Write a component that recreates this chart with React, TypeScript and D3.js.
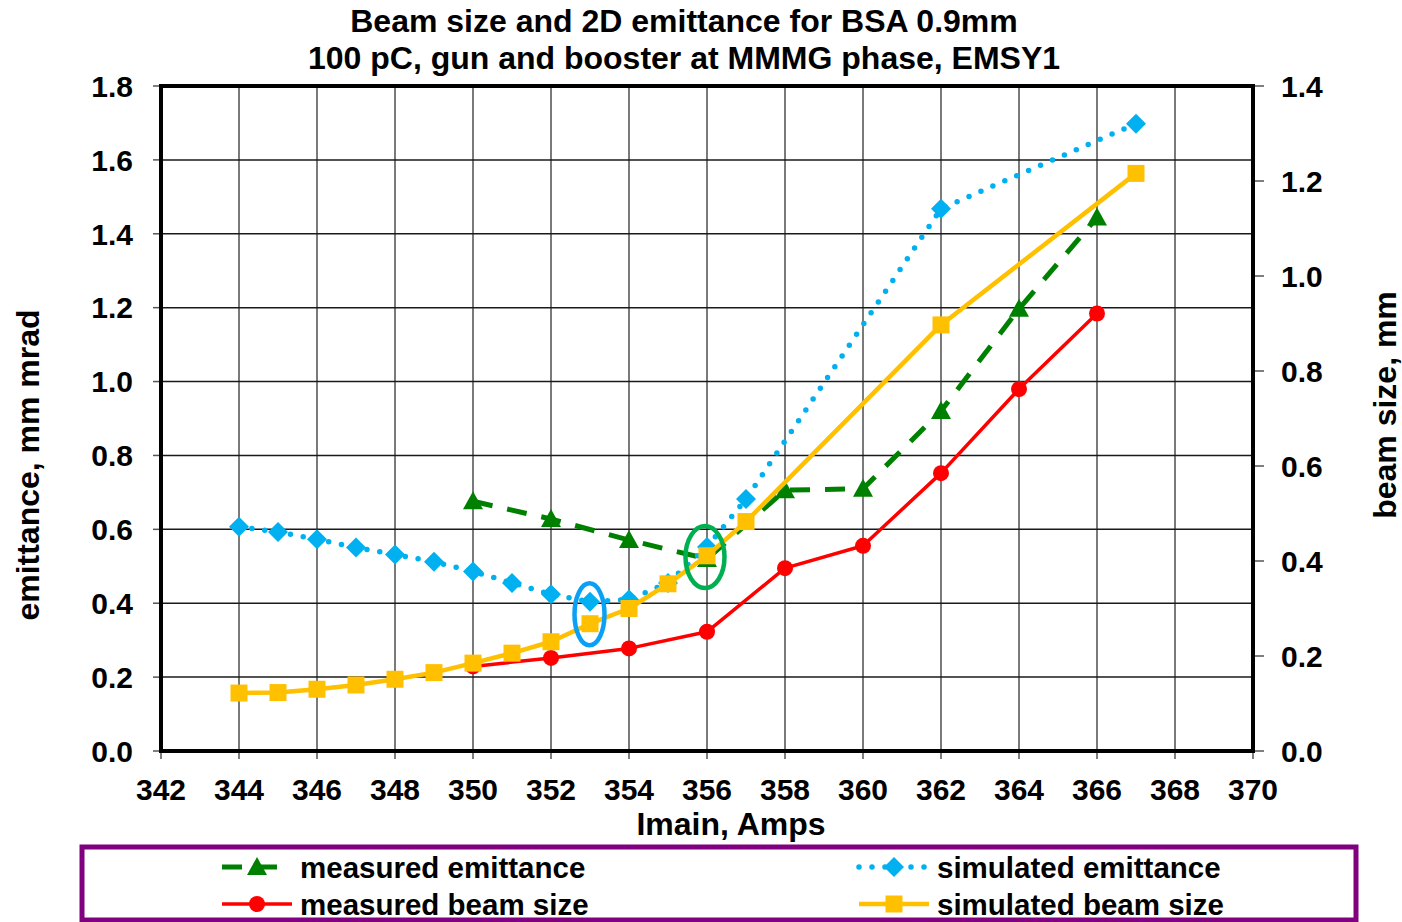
import React from "react";
import * as d3 from "d3";

// Imain current settings, Amps
const measEmitX = [350, 352, 354, 356, 358, 360, 362, 364, 366];
const measEmitY = [0.676, 0.628, 0.571, 0.52, 0.706, 0.71, 0.92, 1.197, 1.444];

const simEmitX = [344, 345, 346, 347, 348, 349, 350, 351, 352, 353, 354, 355, 356, 357, 362, 367];
const simEmitY = [0.607, 0.593, 0.573, 0.551, 0.532, 0.512, 0.486, 0.455, 0.424, 0.404, 0.41, 0.455, 0.552, 0.682, 1.468, 1.698];

const measSizeX = [350, 352, 354, 356, 358, 360, 362, 364, 366];
const measSizeY = [0.178, 0.196, 0.216, 0.251, 0.385, 0.432, 0.585, 0.762, 0.921];

const simSizeX = [344, 345, 346, 347, 348, 349, 350, 351, 352, 353, 354, 355, 356, 357, 362, 367];
const simSizeY = [0.122, 0.123, 0.13, 0.139, 0.151, 0.165, 0.185, 0.206, 0.23, 0.268, 0.3, 0.352, 0.411, 0.483, 0.897, 1.216];

const xTicks = [342, 344, 346, 348, 350, 352, 354, 356, 358, 360, 362, 364, 366, 368, 370];
const leftTicks = [0, 0.2, 0.4, 0.6, 0.8, 1.0, 1.2, 1.4, 1.6, 1.8];
const rightTicks = [0, 0.2, 0.4, 0.6, 0.8, 1.0, 1.2, 1.4];

const titleLines = ["Beam size and 2D emittance for BSA 0.9mm", "100 pC, gun and booster at MMMG phase, EMSY1"];

// Highlighted settings (ellipses): [x, value on emittance axis]
const highlightBlue = [353, 0.37];
const highlightGreen = [356, 0.525];

const W = 1402;
const H = 922;
const L = 161, R = 1253, T = 86, B = 751;

const GREEN = "#008000";
const BLUE = "#00b0f0";
const RED = "#ff0000";
const YELLOW = "#ffc000";
const FONT = "'Liberation Sans', Arial, Helvetica, sans-serif";

const x = d3.scaleLinear().domain([342, 370]).range([L, R]);
const yL = d3.scaleLinear().domain([0, 1.8]).range([B, T]);
const yR = d3.scaleLinear().domain([0, 1.4]).range([B, T]);

type Pt = [number, number];
const zip = (xs: number[], ys: number[]): Pt[] => xs.map((v, i) => [v, ys[i]]);

function Marker({ kind, cx, cy, color }: { kind: string; cx: number; cy: number; color: string }) {
  if (kind === "circle") return <circle cx={cx} cy={cy} r={8} fill={color} />;
  if (kind === "square") return <rect x={cx - 8.5} y={cy - 8.5} width={17} height={17} fill={color} />;
  if (kind === "diamond")
    return <path d={`M${cx},${cy - 10}L${cx + 10},${cy}L${cx},${cy + 10}L${cx - 10},${cy}Z`} fill={color} />;
  return <path d={`M${cx},${cy - 10}L${cx + 10},${cy + 8}L${cx - 10},${cy + 8}Z`} fill={color} />;
}

const series = [
  { name: "measured emittance", data: zip(measEmitX, measEmitY), y: yL, color: GREEN, width: 5, dash: "20 15", cap: "butt", marker: "triangle" },
  { name: "simulated emittance", data: zip(simEmitX, simEmitY), y: yL, color: BLUE, width: 5.5, dash: "0 13", cap: "round", marker: "diamond" },
  { name: "measured beam size", data: zip(measSizeX, measSizeY), y: yR, color: RED, width: 3.5, dash: "none", cap: "butt", marker: "circle" },
  { name: "simulated beam size", data: zip(simSizeX, simSizeY), y: yR, color: YELLOW, width: 4.5, dash: "none", cap: "butt", marker: "square" },
];

const legendPos: Record<string, [number, number]> = {
  "measured emittance": [222, 867],
  "simulated emittance": [859, 867],
  "measured beam size": [222, 904],
  "simulated beam size": [859, 904],
};

export default function App() {
  return (
    <svg width={W} height={H} style={{ position: "absolute", left: 0, top: 0, background: "#fff" }} fontFamily={FONT}>
      {/* title */}
      {titleLines.map((t, i) => (
        <text key={t} x={684} y={32 + i * 37} textAnchor="middle" fontSize={32} fontWeight="bold">{t}</text>
      ))}

      {/* grid */}
      {xTicks.slice(1, -1).map((v) => (
        <line key={"gx" + v} x1={x(v)} x2={x(v)} y1={T} y2={B} stroke="#7a7a7a" strokeWidth={2} />
      ))}
      {leftTicks.slice(1, -1).map((v) => (
        <line key={"gy" + v} x1={L} x2={R} y1={yL(v)} y2={yL(v)} stroke="#1a1a1a" strokeWidth={1.5} />
      ))}

      {/* tick marks */}
      {xTicks.map((v) => (
        <line key={"tx" + v} x1={x(v)} x2={x(v)} y1={B} y2={B + 8} stroke="#555" strokeWidth={1.5} />
      ))}
      {leftTicks.map((v) => (
        <line key={"tl" + v} x1={L - 8} x2={L} y1={yL(v)} y2={yL(v)} stroke="#555" strokeWidth={1.5} />
      ))}
      {rightTicks.map((v) => (
        <line key={"tr" + v} x1={R} x2={R + 11} y1={yR(v)} y2={yR(v)} stroke="#555" strokeWidth={1.5} />
      ))}

      {/* tick labels */}
      {xTicks.map((v) => (
        <text key={"lx" + v} x={x(v)} y={800} textAnchor="middle" fontSize={30} fontWeight="bold">{v}</text>
      ))}
      {leftTicks.map((v) => (
        <text key={"ll" + v} x={133} y={yL(v)} dy="0.36em" textAnchor="end" fontSize={30} fontWeight="bold">{v.toFixed(1)}</text>
      ))}
      {rightTicks.map((v) => (
        <text key={"lr" + v} x={1281} y={yR(v)} dy="0.36em" textAnchor="start" fontSize={30} fontWeight="bold">{v.toFixed(1)}</text>
      ))}

      {/* axis titles */}
      <text x={731} y={835} textAnchor="middle" fontSize={32} fontWeight="bold">Imain, Amps</text>
      <text transform="translate(39,465) rotate(-90)" textAnchor="middle" fontSize={32} fontWeight="bold">emittance, mm mrad</text>
      <text transform="translate(1396,405) rotate(-90)" textAnchor="middle" fontSize={32} fontWeight="bold">beam size, mm</text>

      {/* series */}
      {series.map((s) => {
        const line = d3.line<Pt>().x((d) => x(d[0])).y((d) => s.y(d[1]));
        return (
          <g key={s.name}>
            <path d={line(s.data) || ""} fill="none" stroke={s.color} strokeWidth={s.width}
              strokeDasharray={s.dash} strokeLinecap={s.cap as any} strokeLinejoin="round" />
            {s.data.map((d, i) => (
              <Marker key={i} kind={s.marker} cx={x(d[0])} cy={s.y(d[1])} color={s.color} />
            ))}
          </g>
        );
      })}

      {/* highlight ellipses */}
      <ellipse cx={x(highlightBlue[0]) - 0.5} cy={yL(highlightBlue[1])} rx={15} ry={31} fill="none" stroke="#0aa0f5" strokeWidth={4.5} />
      <ellipse cx={x(highlightGreen[0]) - 2} cy={yL(highlightGreen[1])} rx={19.5} ry={31} fill="none" stroke="#00b050" strokeWidth={4.5} />

      {/* plot frame */}
      <rect x={L} y={T} width={R - L} height={B - T} fill="none" stroke="#000" strokeWidth={4} />

      {/* legend */}
      <rect x={82} y={847} width={1274} height={73} fill="#fff" stroke="#800080" strokeWidth={5} />
      {series.map((s) => {
        const [lx, ly] = legendPos[s.name];
        return (
          <g key={"lg" + s.name}>
            <line x1={lx} x2={lx + 70} y1={ly} y2={ly} stroke={s.color} strokeWidth={s.width}
              strokeDasharray={s.dash} strokeLinecap={s.cap as any} />
            <Marker kind={s.marker} cx={lx + 35} cy={ly} color={s.color} />
            <text x={lx + 78} y={ly} dy="0.36em" fontSize={29.5} fontWeight="bold">{s.name}</text>
          </g>
        );
      })}
    </svg>
  );
}
